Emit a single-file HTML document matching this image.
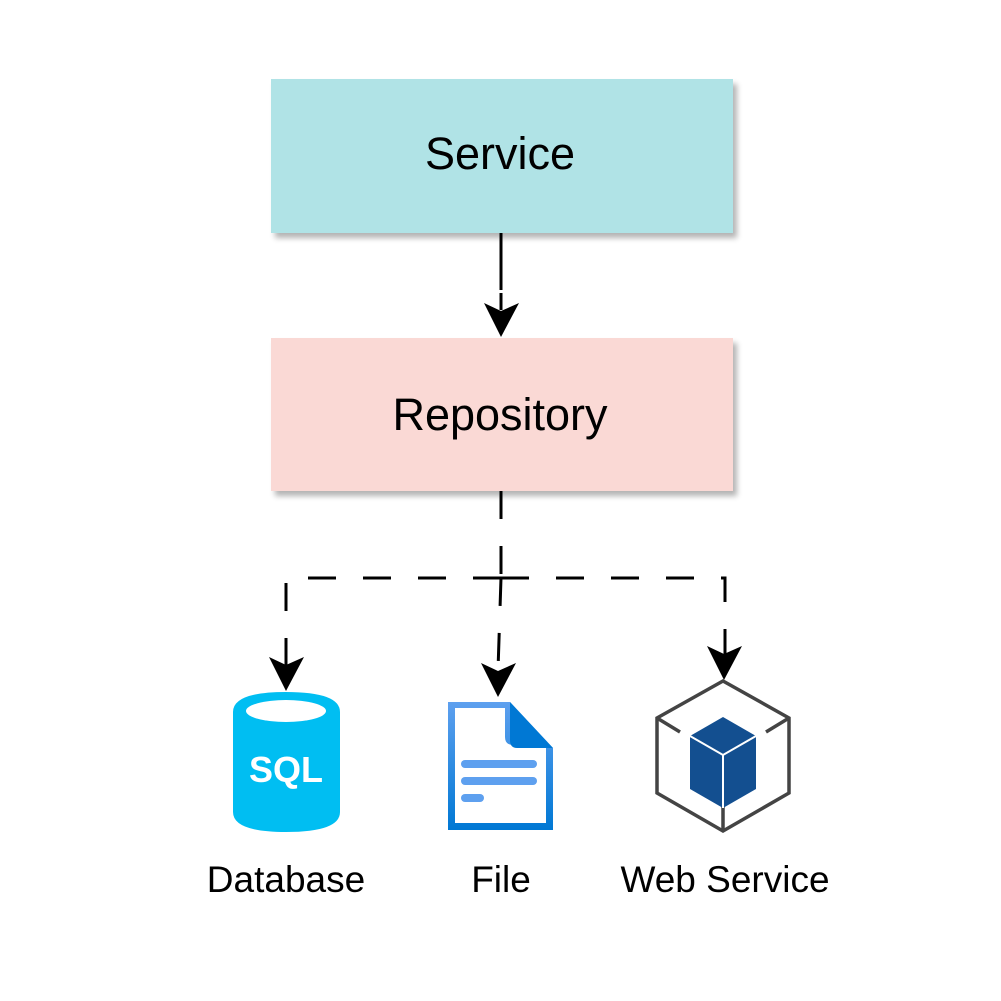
<!DOCTYPE html>
<html><head><style>
html,body{margin:0;padding:0;background:#fff;}
svg{display:block;}
text{font-family:"Liberation Sans",Arial,sans-serif;}
</style></head><body>
<svg width="1001" height="1001" viewBox="0 0 1001 1001" xmlns="http://www.w3.org/2000/svg">
<defs>
<filter id="sh" x="-10%" y="-10%" width="130%" height="140%">
<feGaussianBlur in="SourceAlpha" stdDeviation="3"/>
<feOffset dx="4" dy="5"/>
<feComponentTransfer><feFuncA type="linear" slope="0.3"/></feComponentTransfer>
<feMerge><feMergeNode/><feMergeNode in="SourceGraphic"/></feMerge>
</filter>
<linearGradient id="fg" x1="0" y1="0" x2="0" y2="1">
<stop offset="0" stop-color="#5ea0ef"/><stop offset="1" stop-color="#0078d4"/>
</linearGradient>
</defs>
<rect x="271" y="79" width="462" height="154" fill="#b0e3e6" filter="url(#sh)"/>
<text x="500" y="169" font-size="45" text-anchor="middle">Service</text>
<rect x="271" y="338" width="462" height="153" fill="#fad9d5" filter="url(#sh)"/>
<text x="500" y="430" font-size="45" text-anchor="middle">Repository</text>

<g stroke="#000" stroke-width="3" fill="none">
<line x1="501" y1="233" x2="501" y2="290"/>
<line x1="501" y1="293" x2="501" y2="310"/>
</g>
<g stroke="#000" stroke-width="3" fill="none" stroke-dasharray="28 27">
<line x1="501" y1="491" x2="501" y2="578"/>
<path d="M501 578 H286 V670"/>
<path d="M501 578 H725 V660"/>
<path d="M501 578 L498 670"/>
</g>
<g fill="#000">
<path d="M501 337 L484 303 L501 311 L519 303 Z"/>
<path d="M286 691 L269 657 L286 665 L304 657 Z"/>
<path d="M498 697 L481 663 L498 671 L516 663 Z"/>
<path d="M724 680 L707 646 L724 654 L742 646 Z"/>
</g>

<!-- Database -->
<path d="M233 712 Q233 692 286 692 Q340 692 340 712 L340 812 Q340 832 286 832 Q233 832 233 812 Z" fill="#00bef2"/>
<ellipse cx="286" cy="711" rx="40" ry="11" fill="#fff"/>
<text x="286" y="782" font-size="36" font-weight="bold" fill="#fff" text-anchor="middle">SQL</text>

<!-- File -->
<path d="M448 702 H510 L553 748 V830 H448 Z" fill="url(#fg)"/>
<path d="M455 708 H505 V737 Q505 745 513 745 H546 V823 H455 Z" fill="#fff"/>
<path d="M510 702 L553 748 H517 Q510 748 510 740 Z" fill="#0078d4"/>
<g stroke="#5ea0ef" stroke-width="8" stroke-linecap="round">
<line x1="465" y1="764" x2="533" y2="764"/>
<line x1="465" y1="781" x2="533" y2="781"/>
<line x1="465" y1="798" x2="480" y2="798"/>
</g>

<!-- Web service -->
<g stroke="#444" stroke-width="3.5" fill="none">
<path d="M723 681 L789 718 L789 793 L723 831 L657 793 L657 718 Z"/>
<path d="M657 718 L680 732 M789 718 L766 732 M723 831 L723 798"/>
</g>
<path d="M723 717 L756 736 L756 789 L723 808 L690 789 L690 736 Z" fill="#134f90"/>
<path d="M690 736 L723 755 L756 736 M723 755 V808" stroke="#fff" stroke-width="2" fill="none"/>

<text x="286" y="892" font-size="37" text-anchor="middle">Database</text>
<text x="501" y="892" font-size="37" text-anchor="middle">File</text>
<text x="725" y="892" font-size="37" text-anchor="middle">Web Service</text>
</svg>
</body></html>
